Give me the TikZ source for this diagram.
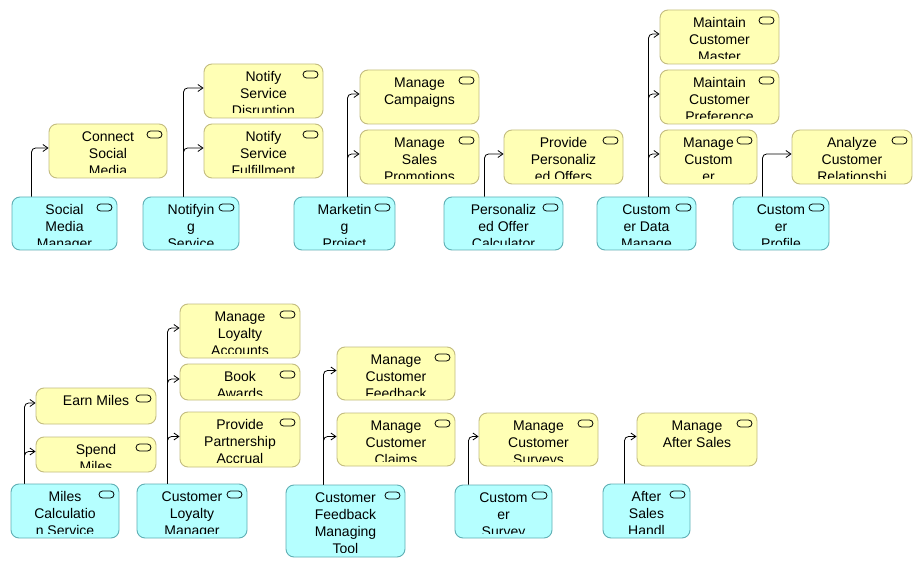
\documentclass[tikz,border=0pt]{standalone}
\usepackage{fontspec}
\setmainfont{Liberation Sans}
\usetikzlibrary{arrows.meta}
\definecolor{bfill}{HTML}{B5FFFF}
\definecolor{bdraw}{HTML}{5FAFB5}
\definecolor{yfill}{HTML}{FFFFB5}
\definecolor{ydraw}{HTML}{C3BC80}
\tikzset{
  appbox/.style={draw=bdraw, fill=bfill, rounded corners=8pt, line width=0.9pt, inner sep=0pt},
  svcbox/.style={draw=ydraw, fill=yfill, rounded corners=8pt, line width=0.9pt, inner sep=0pt},
  lbl/.style={anchor=north, align=center, inner sep=0pt, font=\fontsize{14pt}{17pt}\selectfont},
  icon/.style={draw=black, line width=0.8pt, rounded corners=3.5pt},
  conn/.style={draw=black, line width=0.8pt, rounded corners=4pt, -{Straight Barb[length=5pt,width=7pt]}}
}
\newcommand\abox[7]{%
  \node[#2, minimum width={(#5-#3)*1pt}, minimum height={(#6-#4)*1pt}] (#1) at ({(#3+#5)/2},{(#4+#6)/2}) {};
  \begin{scope}
    \clip (#3,#4) rectangle (#5,{#6-5});
    \node[lbl] at ({(#3+#5)/2},{#4+7.3}) {#7};
  \end{scope}
  \draw[icon] ({#5-20},{#4+7}) rectangle ({#5-5},{#4+14});
}
\begin{document}
\begin{tikzpicture}[x=1pt,y=-1pt]
\useasboundingbox[fill=white] (0,0) rectangle (922,567);
% ---- top row applications
\abox{smm}{appbox}{12}{197}{117}{250}{Social\\Media\\Manager}
\abox{ns}{appbox}{143}{197}{239}{250}{Notifyin\\g\\Service}
\abox{mp}{appbox}{294}{197}{395}{250}{Marketin\\g\\Project}
\abox{poc}{appbox}{444}{197}{563}{250}{Personaliz\\ed Offer\\Calculator}
\abox{cdm}{appbox}{597}{197}{696}{250}{Custom\\er Data\\Manage}
\abox{cp}{appbox}{733}{197}{829}{250}{Custom\\er\\Profile}
% ---- top row services
\abox{csm}{svcbox}{49}{124}{167}{178}{Connect\\Social\\Media}
\abox{nsd}{svcbox}{204}{64}{323}{118}{Notify\\Service\\Disruption}
\abox{nsf}{svcbox}{204}{124}{323}{178}{Notify\\Service\\Fulfillment}
\abox{mc}{svcbox}{360}{70}{479}{124}{Manage\\Campaigns}
\abox{msp}{svcbox}{360}{130}{479}{184}{Manage\\Sales\\Promotions}
\abox{ppo}{svcbox}{504}{130}{623}{184}{Provide\\Personaliz\\ed Offers}
\abox{mcm}{svcbox}{660}{10}{779}{64}{Maintain\\Customer\\Master}
\abox{mcp}{svcbox}{660}{70}{779}{124}{Maintain\\Customer\\Preference}
\abox{mcu}{svcbox}{660}{130}{757}{184}{Manage\\Custom\\er}
\abox{acr}{svcbox}{792}{130}{912}{184}{Analyze\\Customer\\Relationshi}
% ---- bottom row applications
\abox{mcs}{appbox}{11}{484}{119}{538}{Miles\\Calculatio\\n Service}
\abox{clm}{appbox}{137}{484}{247}{538}{Customer\\Loyalty\\Manager}
\abox{cfmt}{appbox}{286}{485}{405}{557}{Customer\\Feedback\\Managing\\Tool}
\abox{cs}{appbox}{455}{485}{552}{538}{Custom\\er\\Survey}
\abox{ash}{appbox}{603}{484}{690}{538}{After\\Sales\\Handl}
% ---- bottom row services
\abox{em}{svcbox}{36}{388}{156}{424}{Earn Miles}
\abox{sm}{svcbox}{36}{437}{156}{472}{Spend\\Miles}
\abox{mla}{svcbox}{180}{304}{300}{358}{Manage\\Loyalty\\Accounts}
\abox{ba}{svcbox}{180}{364}{300}{400}{Book\\Awards}
\abox{ppa}{svcbox}{180}{412}{300}{467}{Provide\\Partnership\\Accrual}
\abox{mcf}{svcbox}{337}{347}{455}{400}{Manage\\Customer\\Feedback}
\abox{mccl}{svcbox}{337}{413}{455}{466}{Manage\\Customer\\Claims}
\abox{mcsv}{svcbox}{479}{413}{598}{466}{Manage\\Customer\\Surveys}
\abox{mas}{svcbox}{637}{413}{757}{466}{Manage\\After Sales}
% ---- connectors
\draw[conn] ([xshift=20pt]smm.north west) |- ([yshift=3pt]csm.west);
\draw[conn] ([xshift=41pt]ns.north west) |- ([yshift=3pt]nsd.west);
\draw[conn] ([xshift=41pt]ns.north west) |- ([yshift=3pt]nsf.west);
\draw[conn] ([xshift=54pt]mp.north west) |- ([yshift=3pt]mc.west);
\draw[conn] ([xshift=54pt]mp.north west) |- ([yshift=3pt]msp.west);
\draw[conn] ([xshift=41pt]poc.north west) |- ([yshift=3pt]ppo.west);
\draw[conn] ([xshift=52pt]cdm.north west) |- ([yshift=3pt]mcm.west);
\draw[conn] ([xshift=52pt]cdm.north west) |- ([yshift=3pt]mcp.west);
\draw[conn] ([xshift=52pt]cdm.north west) |- ([yshift=3pt]mcu.west);
\draw[conn] ([xshift=30pt]cp.north west) |- ([yshift=3pt]acr.west);
\draw[conn] ([xshift=14pt]mcs.north west) |- ([yshift=3pt]em.west);
\draw[conn] ([xshift=14pt]mcs.north west) |- ([yshift=3pt]sm.west);
\draw[conn] ([xshift=31pt]clm.north west) |- ([yshift=3pt]mla.west);
\draw[conn] ([xshift=31pt]clm.north west) |- ([yshift=3pt]ba.west);
\draw[conn] ([xshift=31pt]clm.north west) |- ([yshift=3pt]ppa.west);
\draw[conn] ([xshift=38pt]cfmt.north west) |- ([yshift=3pt]mcf.west);
\draw[conn] ([xshift=38pt]cfmt.north west) |- ([yshift=3pt]mccl.west);
\draw[conn] ([xshift=14pt]cs.north west) |- ([yshift=3pt]mcsv.west);
\draw[conn] ([xshift=22pt]ash.north west) |- ([yshift=3pt]mas.west);
\end{tikzpicture}
\end{document}
